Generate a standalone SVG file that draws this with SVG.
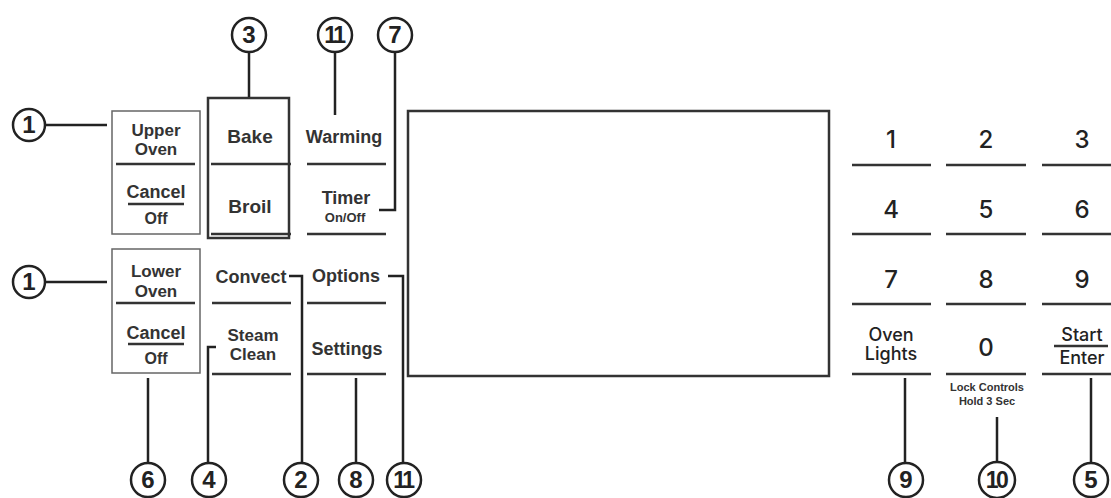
<svg xmlns="http://www.w3.org/2000/svg" width="1111" height="498" viewBox="0 0 1111 498">
<style>
.bg{fill:#fff}
.box{fill:none;stroke:#666;stroke-width:1.5}
.tbox{fill:none;stroke:#333;stroke-width:2.5}
.ln{stroke:#333;stroke-width:2.5;fill:none}
.cn{stroke:#222;stroke-width:2.5;fill:none}
.cir{fill:#fff;stroke:#222;stroke-width:2.5}
.num{font-family:"Liberation Sans",Arial,sans-serif;font-weight:bold;font-size:24px;fill:#222;text-anchor:middle}
.num2{font-family:"Liberation Sans",Arial,sans-serif;font-weight:bold;font-size:23px;fill:#222;text-anchor:middle;letter-spacing:-2.5px}
.lb{font-family:"Liberation Sans",Arial,sans-serif;font-weight:bold;font-size:18px;fill:#333;text-anchor:middle}
.lt{font-family:"Liberation Sans",Arial,sans-serif;font-weight:bold;font-size:17px;fill:#333;text-anchor:middle}
.lbb{font-family:"Liberation Sans",Arial,sans-serif;font-weight:bold;font-size:19px;fill:#333;text-anchor:middle}
.sm{font-family:"Liberation Sans",Arial,sans-serif;font-weight:bold;font-size:13px;fill:#333;text-anchor:middle}
.xs{font-family:"Liberation Sans",Arial,sans-serif;font-weight:bold;font-size:11px;fill:#333;text-anchor:middle}
.kp{font-family:Inter,"Open Sans",sans-serif;font-weight:500;font-size:24px;fill:#222;text-anchor:middle}
.kl{font-family:Inter,"Open Sans",sans-serif;font-weight:500;font-size:18px;fill:#222;text-anchor:middle}
</style>
<rect class="bg" x="0" y="0" width="1111" height="498"/>

<g id="upper-oven">
<rect class="box" x="112" y="111" width="88" height="123"/>
<line class="ln" x1="116" y1="164" x2="195" y2="164"/>
<text class="lt" x="156" y="136">Upper</text>
<text class="lt" x="156" y="155">Oven</text>
<text class="lb" x="156" y="198">Cancel</text>
<line class="ln" x1="128" y1="204" x2="184" y2="204"/>
<text class="lb" x="156" y="224" style="font-size:16px">Off</text>
</g>

<g id="lower-oven">
<rect class="box" x="112" y="249" width="88" height="124"/>
<line class="ln" x1="116" y1="303" x2="195" y2="303"/>
<text class="lt" x="156" y="277">Lower</text>
<text class="lt" x="156" y="297">Oven</text>
<text class="lb" x="156" y="339">Cancel</text>
<line class="ln" x1="128" y1="344" x2="184" y2="344"/>
<text class="lb" x="156" y="364" style="font-size:16px">Off</text>
</g>

<g id="bake-broil">
<rect class="tbox" x="208" y="98" width="81" height="140"/>
<line class="ln" x1="211" y1="164" x2="291" y2="164"/>
<line class="ln" x1="211" y1="234" x2="291" y2="234"/>
<text class="lbb" x="250" y="143">Bake</text>
<text class="lbb" x="250" y="213">Broil</text>
</g>

<g id="warming-timer">
<text class="lb" x="344" y="143">Warming</text>
<line class="ln" x1="307" y1="164" x2="386" y2="164"/>
<text class="lb" x="346" y="204">Timer</text>
<text class="sm" x="345" y="222">On/Off</text>
<line class="ln" x1="307" y1="234" x2="386" y2="234"/>
</g>

<g id="convect-steam">
<text class="lb" x="251" y="283">Convect</text>
<line class="ln" x1="212" y1="303" x2="291" y2="303"/>
<text class="lt" x="253" y="341">Steam</text>
<text class="lt" x="253" y="360">Clean</text>
<line class="ln" x1="212" y1="374" x2="291" y2="374"/>
</g>

<g id="options-settings">
<text class="lb" x="346" y="282">Options</text>
<line class="ln" x1="307" y1="303" x2="386" y2="303"/>
<text class="lb" x="347" y="355">Settings</text>
<line class="ln" x1="307" y1="374" x2="386" y2="374"/>
</g>

<g id="display">
<rect class="tbox" x="408" y="111" width="421" height="265"/>
</g>

<g id="keypad">
<text class="kp" x="891" y="148">1</text>
<text class="kp" x="986" y="148">2</text>
<text class="kp" x="1082" y="148">3</text>
<text class="kp" x="891" y="218">4</text>
<text class="kp" x="986" y="218">5</text>
<text class="kp" x="1082" y="218">6</text>
<text class="kp" x="891" y="288">7</text>
<text class="kp" x="986" y="288">8</text>
<text class="kp" x="1082" y="288">9</text>
<text class="kl" x="891" y="341">Oven</text>
<text class="kl" x="891" y="360">Lights</text>
<text class="kp" x="986" y="356">0</text>
<text class="kl" x="1082" y="341">Start</text>
<line class="ln" x1="1054" y1="346" x2="1108" y2="346"/>
<text class="kl" x="1082" y="364">Enter</text>
<text class="xs" x="987" y="391">Lock Controls</text>
<text class="xs" x="987" y="405">Hold 3 Sec</text>
<g class="ln">
<line x1="852" y1="165" x2="931" y2="165"/><line x1="946" y1="165" x2="1026" y2="165"/><line x1="1042" y1="165" x2="1111" y2="165"/>
<line x1="852" y1="234" x2="931" y2="234"/><line x1="946" y1="234" x2="1026" y2="234"/><line x1="1042" y1="234" x2="1111" y2="234"/>
<line x1="852" y1="304" x2="931" y2="304"/><line x1="946" y1="304" x2="1026" y2="304"/><line x1="1042" y1="304" x2="1111" y2="304"/>
<line x1="852" y1="374" x2="931" y2="374"/><line x1="946" y1="374" x2="1026" y2="374"/><line x1="1042" y1="374" x2="1111" y2="374"/>
</g>
</g>

<g id="connectors">
<path class="cn" d="M45 125 H107"/>
<path class="cn" d="M45 282 H107"/>
<path class="cn" d="M249 52 V97"/>
<path class="cn" d="M335 52 V115"/>
<path class="cn" d="M395 52 V210 H379"/>
<path class="cn" d="M148 378 V463"/>
<path class="cn" d="M216 347 H208 V463"/>
<path class="cn" d="M289 276 H302 V463"/>
<path class="cn" d="M356 378 V463"/>
<path class="cn" d="M388 276 H403 V463"/>
<path class="cn" d="M905 378 V463"/>
<path class="cn" d="M997 417 V463"/>
<path class="cn" d="M1091 378 V463"/>
</g>

<g id="callout-1a"><circle class="cir" cx="29" cy="125" r="16"/><text class="num" x="29" y="133">1</text></g>
<g id="callout-1b"><circle class="cir" cx="29" cy="282" r="16"/><text class="num" x="29" y="290">1</text></g>
<g id="callout-3"><circle class="cir" cx="249" cy="35" r="17"/><text class="num" x="249" y="43">3</text></g>
<g id="callout-11a"><circle class="cir" cx="335" cy="35" r="17"/><text class="num2" x="334" y="43">11</text></g>
<g id="callout-7"><circle class="cir" cx="395" cy="35" r="17"/><text class="num" x="395" y="43">7</text></g>
<g id="callout-6"><circle class="cir" cx="148" cy="480" r="17"/><text class="num" x="148" y="488">6</text></g>
<g id="callout-4"><circle class="cir" cx="209" cy="480" r="17"/><text class="num" x="209" y="488">4</text></g>
<g id="callout-2"><circle class="cir" cx="301" cy="480" r="17"/><text class="num" x="301" y="488">2</text></g>
<g id="callout-8"><circle class="cir" cx="356" cy="480" r="17"/><text class="num" x="356" y="488">8</text></g>
<g id="callout-11b"><circle class="cir" cx="404" cy="480" r="17"/><text class="num2" x="403" y="488">11</text></g>
<g id="callout-9"><circle class="cir" cx="906" cy="480" r="17"/><text class="num" x="906" y="488">9</text></g>
<g id="callout-10"><circle class="cir" cx="997" cy="480" r="18"/><text class="num2" x="996" y="488">10</text></g>
<g id="callout-5"><circle class="cir" cx="1091" cy="480" r="17"/><text class="num" x="1091" y="488">5</text></g>
</svg>
